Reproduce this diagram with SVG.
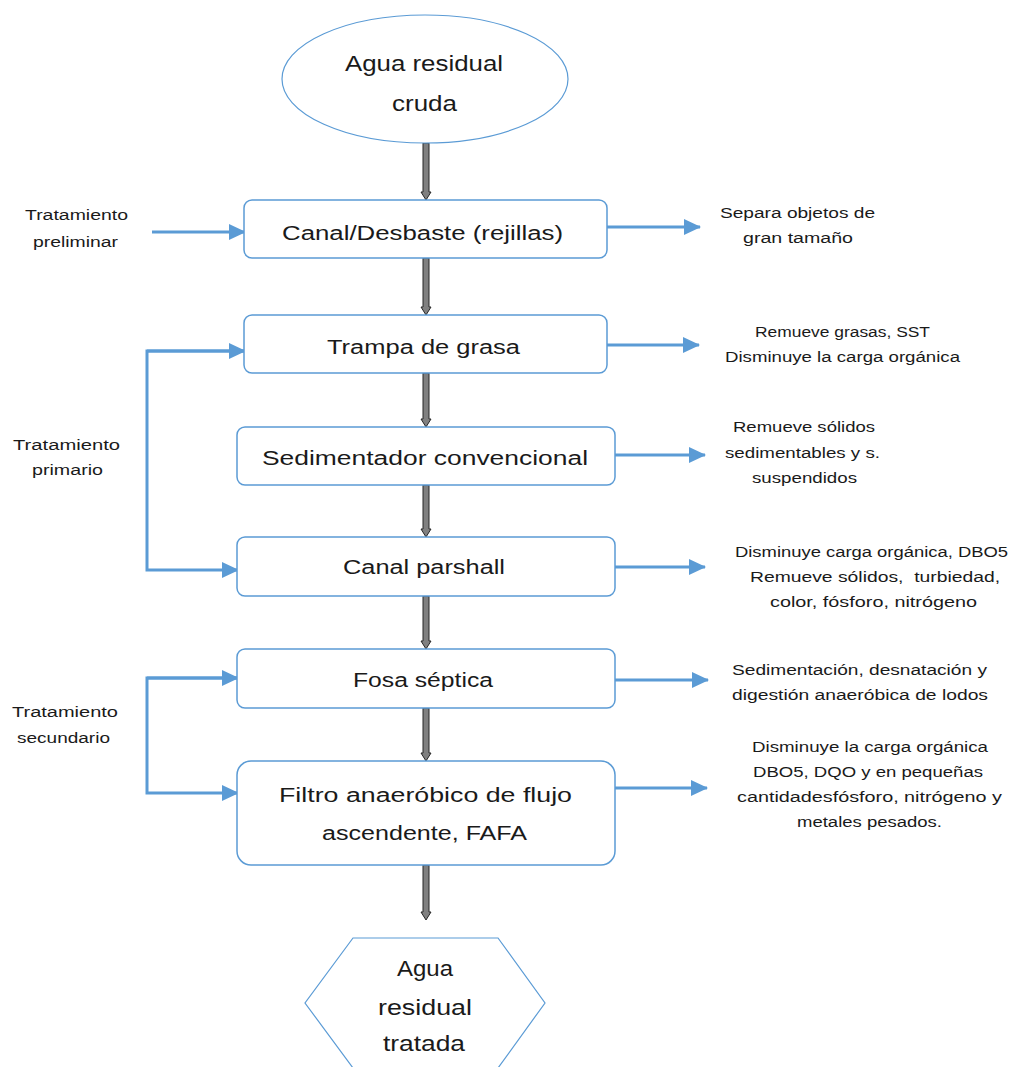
<svg xmlns="http://www.w3.org/2000/svg" width="1013" height="1067" viewBox="0 0 1013 1067">
<style>
.box{fill:#fff;stroke:#5b9bd5;stroke-width:1.5}
.thin{fill:#fff;stroke:#5b9bd5;stroke-width:1.2}
.big{font-family:"Liberation Sans",Arial,sans-serif;font-size:20px;fill:#1a1a1a;text-anchor:middle}
.lg{font-family:"Liberation Sans",Arial,sans-serif;font-size:22px;fill:#1a1a1a;text-anchor:middle}
.sm{font-family:"Liberation Sans",Arial,sans-serif;font-size:14px;fill:#1a1a1a;text-anchor:middle}
.blue{fill:none;stroke:#5b9bd5;stroke-width:3}
.down{fill:#808080;stroke:#262626;stroke-width:1}
</style>
<defs>
<marker id="ah" viewBox="0 0 17 16" refX="16" refY="8" markerWidth="17" markerHeight="16" markerUnits="userSpaceOnUse" orient="auto">
<path d="M0,0 L17,8 L0,16 Z" fill="#5b9bd5"/>
</marker>
</defs>
<rect width="1013" height="1067" fill="#fff"/>

<g id="connectors">
<polygon class="down" points="423,143 429,143 429,192 431,192 426,200 421,192 423,192"/>
<polygon class="down" points="423,258 429,258 429,307 431,307 426,315 421,307 423,307"/>
<polygon class="down" points="423,373 429,373 429,419 431,419 426,427 421,419 423,419"/>
<polygon class="down" points="423,485 429,485 429,529 431,529 426,537 421,529 423,529"/>
<polygon class="down" points="423,596 429,596 429,641 431,641 426,649 421,641 423,641"/>
<polygon class="down" points="423,708 429,708 429,753 431,753 426,761 421,753 423,753"/>
<polygon class="down" points="423,865 429,865 429,912 431,912 426,920 421,912 423,912"/>

<line class="blue" x1="152" y1="232" x2="245" y2="232" marker-end="url(#ah)"/>
<polyline class="blue" points="245,351 147,351 147,570 238,570" marker-end="url(#ah)"/>
<line class="blue" x1="147" y1="351" x2="245" y2="351" marker-end="url(#ah)"/>
<polyline class="blue" points="238,678 147,678 147,793 238,793" marker-end="url(#ah)"/>
<line class="blue" x1="147" y1="678" x2="238" y2="678" marker-end="url(#ah)"/>

<line class="blue" x1="607" y1="227" x2="700" y2="227" marker-end="url(#ah)"/>
<line class="blue" x1="607" y1="345" x2="699" y2="345" marker-end="url(#ah)"/>
<line class="blue" x1="615" y1="455" x2="705" y2="455" marker-end="url(#ah)"/>
<line class="blue" x1="615" y1="567" x2="705" y2="567" marker-end="url(#ah)"/>
<line class="blue" x1="615" y1="680" x2="708" y2="680" marker-end="url(#ah)"/>
<line class="blue" x1="615" y1="788" x2="707" y2="788" marker-end="url(#ah)"/>
</g>

<g id="start">
<ellipse class="thin" cx="425" cy="79" rx="143" ry="64"/>
<text class="lg" x="424" y="71" textLength="158" lengthAdjust="spacingAndGlyphs">Agua residual</text>
<text class="lg" x="424.5" y="111" textLength="65" lengthAdjust="spacingAndGlyphs">cruda</text>
</g>

<g id="canal-desbaste">
<rect class="box" x="244" y="200" width="363" height="58" rx="8"/>
<text class="big" x="422.5" y="240" textLength="281" lengthAdjust="spacingAndGlyphs">Canal/Desbaste (rejillas)</text>
</g>
<g id="trampa">
<rect class="box" x="244" y="315" width="363" height="58" rx="8"/>
<text class="big" x="423.5" y="354" textLength="193" lengthAdjust="spacingAndGlyphs">Trampa de grasa</text>
</g>
<g id="sedimentador">
<rect class="box" x="237" y="427" width="378" height="58" rx="8"/>
<text class="big" x="425" y="465" textLength="326" lengthAdjust="spacingAndGlyphs">Sedimentador convencional</text>
</g>
<g id="parshall">
<rect class="box" x="237" y="537" width="378" height="59" rx="8"/>
<text class="big" x="424" y="574" textLength="162" lengthAdjust="spacingAndGlyphs">Canal parshall</text>
</g>
<g id="fosa">
<rect class="box" x="237" y="649" width="378" height="59" rx="8"/>
<text class="big" x="423" y="687" textLength="140" lengthAdjust="spacingAndGlyphs">Fosa séptica</text>
</g>
<g id="filtro">
<rect class="box" x="237" y="761" width="378" height="104" rx="14"/>
<text class="big" x="425.5" y="802" textLength="293" lengthAdjust="spacingAndGlyphs">Filtro anaeróbico de flujo</text>
<text class="big" x="424.5" y="840" textLength="205" lengthAdjust="spacingAndGlyphs">ascendente, FAFA</text>
</g>

<g id="end">
<polygon class="thin" points="353,938 498,938 545,1003 498,1068 353,1068 305,1003"/>
<text class="lg" x="425" y="976" textLength="56" lengthAdjust="spacingAndGlyphs">Agua</text>
<text class="lg" x="425" y="1015" textLength="94" lengthAdjust="spacingAndGlyphs">residual</text>
<text class="lg" x="424" y="1051" textLength="82" lengthAdjust="spacingAndGlyphs">tratada</text>
</g>

<g id="label-preliminar">
<text class="sm" x="76.5" y="220" textLength="103" lengthAdjust="spacingAndGlyphs">Tratamiento</text>
<text class="sm" x="75.5" y="247" textLength="85" lengthAdjust="spacingAndGlyphs">preliminar</text>
</g>
<g id="label-primario">
<text class="sm" x="66.5" y="450" textLength="107" lengthAdjust="spacingAndGlyphs">Tratamiento</text>
<text class="sm" x="67.5" y="475" textLength="71" lengthAdjust="spacingAndGlyphs">primario</text>
</g>
<g id="label-secundario">
<text class="sm" x="65" y="717" textLength="106" lengthAdjust="spacingAndGlyphs">Tratamiento</text>
<text class="sm" x="63.5" y="743" textLength="93" lengthAdjust="spacingAndGlyphs">secundario</text>
</g>

<g id="desc-1">
<text class="sm" x="797.5" y="218" textLength="155" lengthAdjust="spacingAndGlyphs">Separa objetos de</text>
<text class="sm" x="798" y="243" textLength="110" lengthAdjust="spacingAndGlyphs">gran tamaño</text>
</g>
<g id="desc-2">
<text class="sm" x="842.5" y="337" textLength="175" lengthAdjust="spacingAndGlyphs">Remueve grasas, SST</text>
<text class="sm" x="842.5" y="362" textLength="235" lengthAdjust="spacingAndGlyphs">Disminuye la carga orgánica</text>
</g>
<g id="desc-3">
<text class="sm" x="804" y="432" textLength="142" lengthAdjust="spacingAndGlyphs">Remueve sólidos</text>
<text class="sm" x="802.5" y="458" textLength="155" lengthAdjust="spacingAndGlyphs">sedimentables y s.</text>
<text class="sm" x="804.5" y="483" textLength="105" lengthAdjust="spacingAndGlyphs">suspendidos</text>
</g>
<g id="desc-4">
<text class="sm" x="871.5" y="557" textLength="273" lengthAdjust="spacingAndGlyphs">Disminuye carga orgánica, DBO5</text>
<text class="sm" x="875" y="582" textLength="250" lengthAdjust="spacingAndGlyphs" xml:space="preserve">Remueve sólidos,  turbiedad,</text>
<text class="sm" x="873.5" y="607" textLength="207" lengthAdjust="spacingAndGlyphs">color, fósforo, nitrógeno</text>
</g>
<g id="desc-5">
<text class="sm" x="859.5" y="675" textLength="255" lengthAdjust="spacingAndGlyphs">Sedimentación, desnatación y</text>
<text class="sm" x="860" y="700" textLength="256" lengthAdjust="spacingAndGlyphs">digestión anaeróbica de lodos</text>
</g>
<g id="desc-6">
<text class="sm" x="870" y="752" textLength="236" lengthAdjust="spacingAndGlyphs">Disminuye la carga orgánica</text>
<text class="sm" x="868" y="777" textLength="230" lengthAdjust="spacingAndGlyphs">DBO5, DQO y en pequeñas</text>
<text class="sm" x="869.5" y="802" textLength="265" lengthAdjust="spacingAndGlyphs">cantidadesfósforo, nitrógeno y</text>
<text class="sm" x="869.5" y="827" textLength="145" lengthAdjust="spacingAndGlyphs">metales pesados.</text>
</g>
</svg>
